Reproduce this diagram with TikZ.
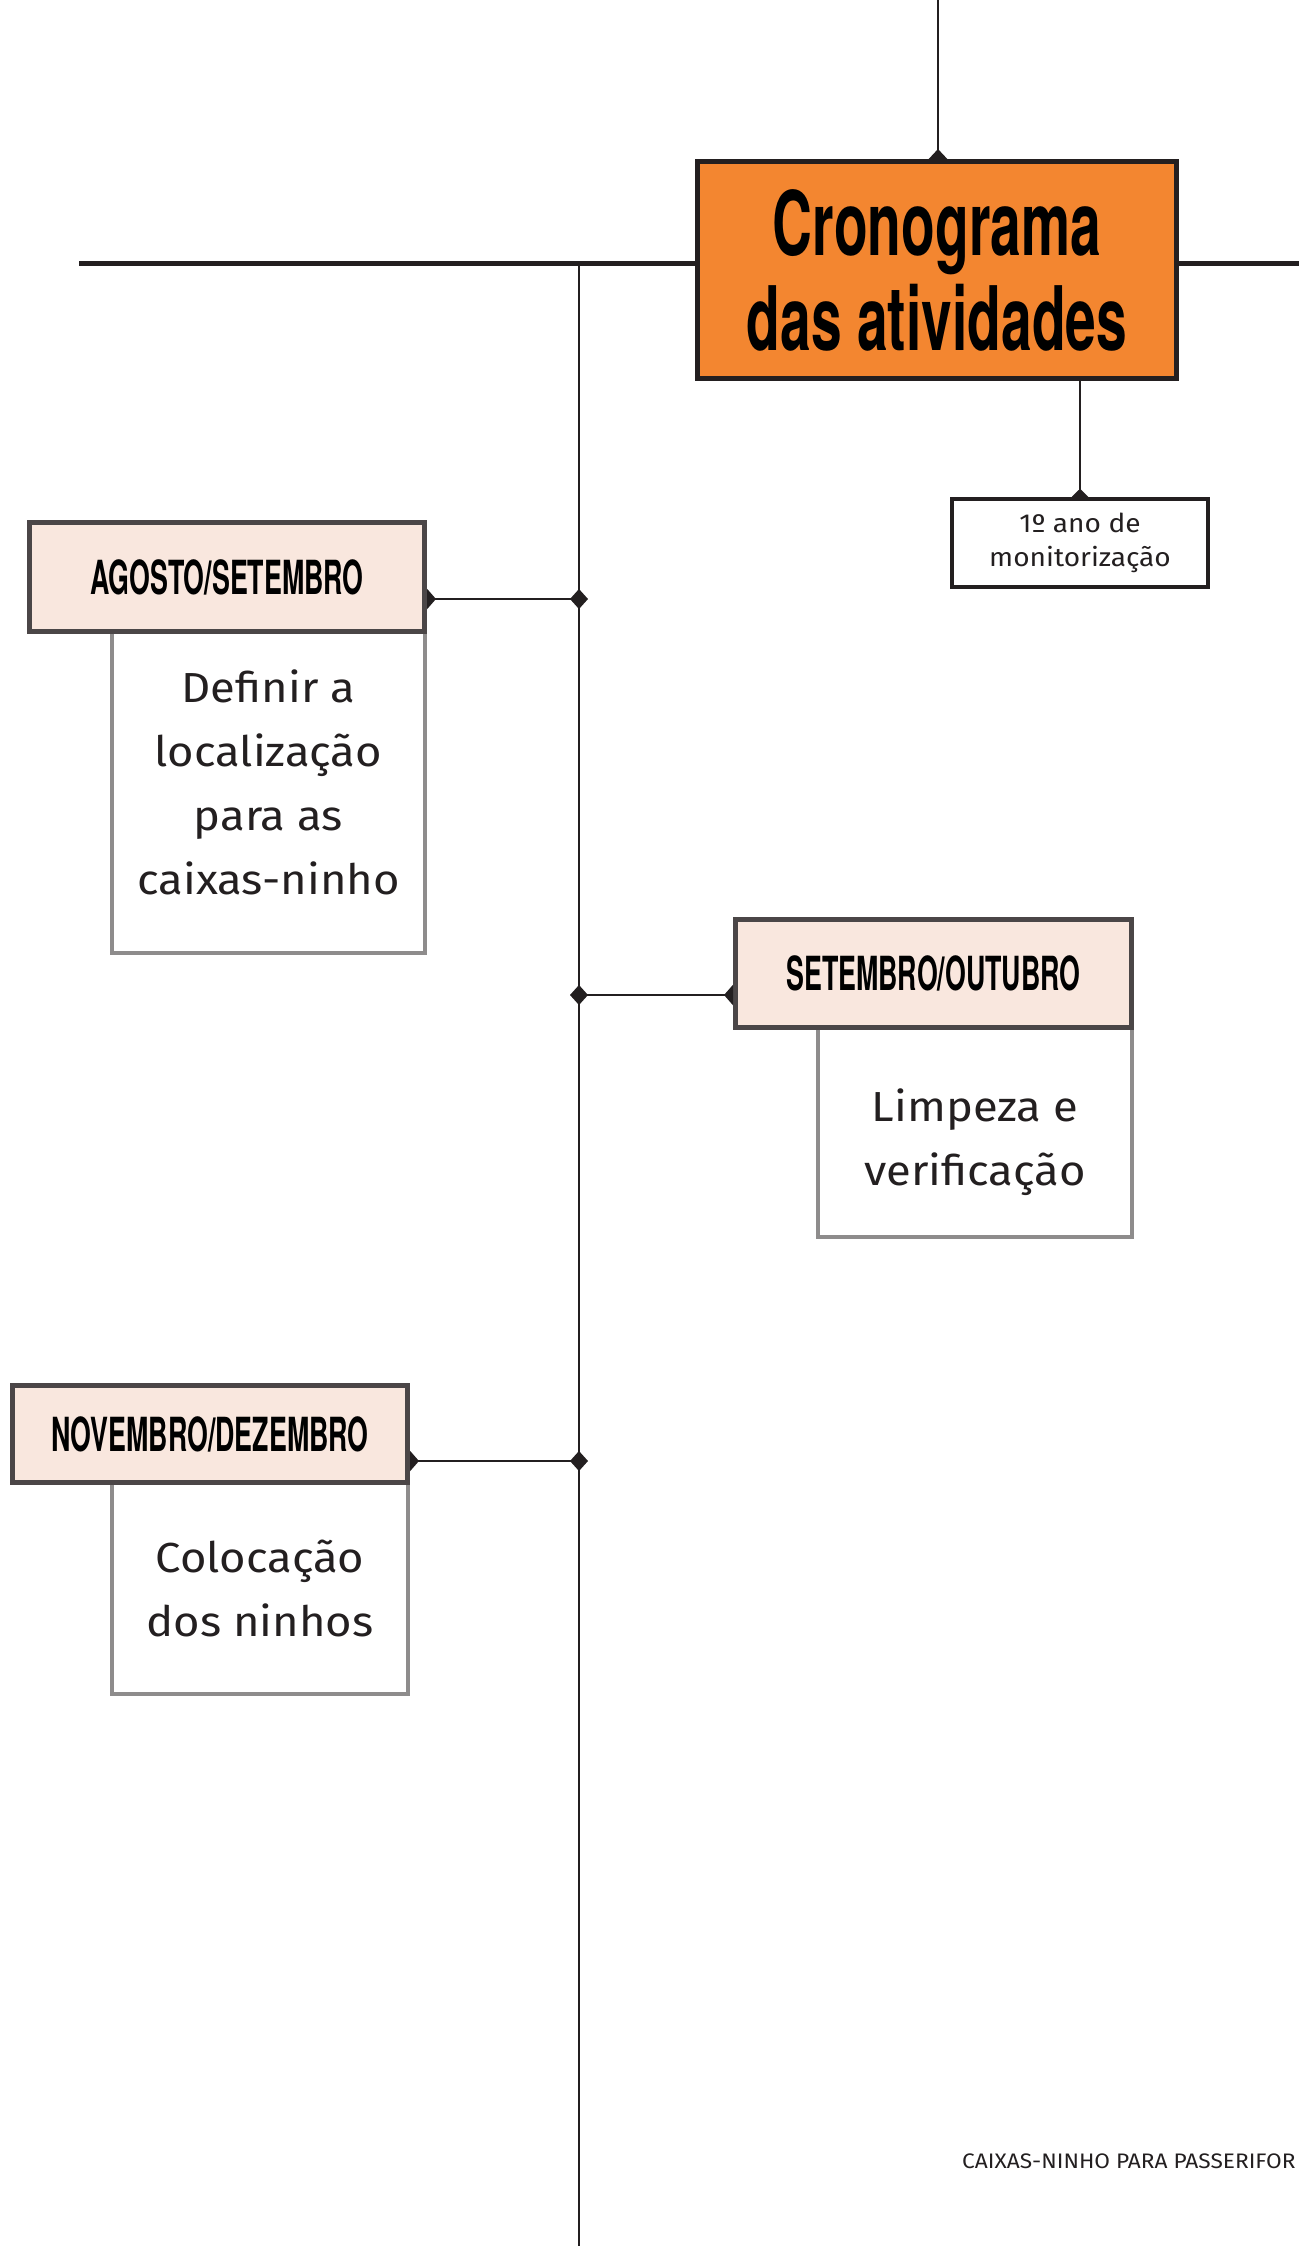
\documentclass[tikz,border=0pt]{standalone}
\usepackage{fontspec}
\setmainfont{Fira Sans}[FakeStretch=1.08]
\newfontfamily\condfont[FakeStretch=0.62]{TeX Gyre Heros}
\newfontfamily\hdrfont[FakeStretch=0.57]{TeX Gyre Heros}
\usetikzlibrary{arrows.meta}
\definecolor{lineblk}{RGB}{35,31,32}
\definecolor{oorange}{RGB}{243,134,48}
\definecolor{ppink}{RGB}{249,231,222}
\definecolor{hdrgrey}{RGB}{75,70,71}
\definecolor{descgrey}{RGB}{142,140,140}

\begin{document}
\begin{tikzpicture}[x=1pt, y=-1pt,
  titlebox/.style={draw=lineblk, line width=5pt, fill=oorange, align=center,
                   minimum width=479pt, minimum height=217pt, inner sep=0pt,
                   font=\condfont\bfseries\fontsize{89}{95}\selectfont},
  yearbox/.style={draw=lineblk, line width=4.5pt, fill=white, align=center,
                  minimum width=256pt, minimum height=88pt, inner sep=0pt,
                  text=lineblk, font=\fontsize{26}{34}\selectfont},
  hdr/.style={draw=hdrgrey, line width=5pt, fill=ppink, inner sep=0pt,
              font=\hdrfont\bfseries\fontsize{47}{50}\selectfont},
  desc/.style={draw=descgrey, line width=4pt, fill=white, align=center,
               inner sep=0pt, text=lineblk, font=\fontsize{42}{64}\selectfont},
  link/.style={draw=lineblk, line width=2.5pt},
  footer/.style={text=lineblk, inner sep=0pt, font=\fontsize{21}{24}\selectfont}]
  \clip (0,0) rectangle (1299,2246);
  % main lines
  \coordinate (lineL) at (79,263.5);
  \coordinate (lineR) at (1299,263.5);
  \coordinate (spineTop) at (579,263.5);
  \coordinate (spineBot) at (579,2246);
  \coordinate (topIn) at (938,0);
  \draw[lineblk, line width=4.5pt] (lineL) -- (lineR);
  \draw[link] (spineTop) -- (spineBot);

  \node[titlebox] (title) at (937,270) {Cronograma\\das atividades};
  \node[yearbox] (year) at (1080,543) {1º ano de\\monitorização};
  \draw[link, -{Triangle[reversed,length=10pt,width=18pt]}] (topIn) -- (topIn |- title.north);
  \draw[link, -{Triangle[reversed,length=8pt,width=16pt]}] (year.north |- title.south) -- (year.north);

  % months
  \node[desc, minimum width=313pt, minimum height=321pt, anchor=north east] (descAgo) at (427,630)
    {Definir a\\localização\\para as\\caixas-ninho\\[-43pt]};
  \node[hdr, minimum width=395pt, minimum height=109pt, anchor=south east] (hdrAgo)
    at ([yshift=-4pt]descAgo.north east) {AGOSTO/SETEMBRO};

  \node[desc, minimum width=314pt, minimum height=209pt, anchor=north east] (descSet) at (1134,1026)
    {Limpeza e\\verificação\\[-73pt]};
  \node[hdr, minimum width=396pt, minimum height=108pt, anchor=south east] (hdrSet)
    at ([yshift=-4pt]descSet.north east) {SETEMBRO/OUTUBRO};

  \node[desc, minimum width=296pt, minimum height=211pt, anchor=north east] (descNov) at (410,1481)
    {Colocação\\dos ninhos};
  \node[hdr, minimum width=395pt, minimum height=97pt, anchor=south east] (hdrNov)
    at ([yshift=-4pt]descNov.north east) {NOVEMBRO/DEZEMBRO};

  % links to the spine
  \coordinate (jAgo) at (579,599);
  \coordinate (jSet) at (579,995);
  \coordinate (jNov) at (579,1461);
  \draw[link, {Triangle[reversed,length=9pt,width=20pt]}-{Diamond[length=18pt,width=20pt]},
        shorten >=-9pt] (hdrAgo.east |- jAgo) -- (jAgo);
  \draw[link, {Diamond[length=18pt,width=20pt]}-{Triangle[reversed,length=9pt,width=20pt]},
        shorten <=-9pt] (jSet) -- (hdrSet.west |- jSet);
  \draw[link, {Triangle[reversed,length=9pt,width=20pt]}-{Diamond[length=18pt,width=20pt]},
        shorten >=-9pt] (hdrNov.east |- jNov) -- (jNov);

  \node[footer, anchor=base west] (foot) at (962,2168) {CAIXAS-NINHO PARA PASSERIFOR};
\end{tikzpicture}
\end{document}
